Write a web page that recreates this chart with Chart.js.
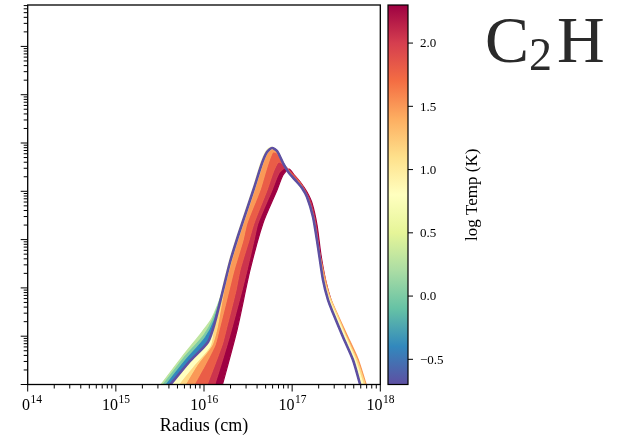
<!DOCTYPE html>
<html>
<head>
<meta charset="utf-8">
<script src="https://cdn.jsdelivr.net/npm/chart.js@4.4.0/dist/chart.umd.min.js"></script>
<style>
  html, body { margin: 0; padding: 0; background: #fff; }
  #wrap { position: relative; width: 621px; height: 438px; }
</style>
</head>
<body>
<div id="wrap"><canvas id="chart" width="621" height="438"></canvas></div>
<script>
// log Temp (K) of each C2H profile, hottest first
const logTemps = [2.3, 2.05, 1.8, 1.5, 1.15, 0.8, 0.3, 0.0, -0.4, -0.7];

// [radius (cm), abundance]; first/last points run just under the axis
const prof230 = [[1.157e16, 1e-11], [1.559e16, 7.69e-11], [2.369e16, 1.344e-9], [3.328e16, 2.35e-8], [4.674e16, 2.21e-7], [6.739e16, 1.064e-6], [7.882e16, 2.175e-6], [9.222e16, 2.89e-6], [1.077e17, 2.074e-6], [1.260e17, 1.485e-6], [1.474e17, 9.67e-7], [1.680e17, 5.73e-7], [1.915e17, 2.006e-7], [2.126e17, 4.80e-8], [2.422e17, 1.325e-8], [2.760e17, 5.62e-9], [3.146e17, 3.02e-9], [4.084e17, 9.63e-10], [5.305e17, 3.22e-10], [6.370e17, 1.024e-10], [6.712e17, 7.69e-11], [9.74e17, 1e-11]];
const prof205 = [[8.73e15, 1e-11], [1.265e16, 7.69e-11], [1.922e16, 9.18e-10], [2.700e16, 9.05e-9], [3.077e16, 2.35e-8], [3.694e16, 9.81e-8], [4.102e16, 2.21e-7], [5.913e16, 1.064e-6], [7.100e16, 2.39e-6], [8.296e16, 3.04e-6], [9.70e16, 2.51e-6], [1.165e17, 1.714e-6], [1.399e17, 1.064e-6], [1.637e17, 5.73e-7], [1.865e17, 2.006e-7], [2.071e17, 4.80e-8], [2.360e17, 1.389e-8], [2.689e17, 5.62e-9], [3.064e17, 3.02e-9], [3.978e17, 9.63e-10], [5.167e17, 3.22e-10], [6.205e17, 1.024e-10], [6.539e17, 7.69e-11], [9.49e17, 1e-11]];
const prof180 = [[6.55e15, 1e-11], [1.026e16, 7.69e-11], [1.601e16, 6.58e-10], [1.777e16, 1.344e-9], [2.308e16, 9.05e-9], [2.562e16, 2.35e-8], [3.242e16, 9.81e-8], [3.694e16, 2.21e-7], [5.188e16, 1.064e-6], [6.230e16, 2.76e-6], [7.100e16, 4.04e-6], [8.526e16, 3.19e-6], [9.97e16, 2.28e-6], [1.196e17, 1.635e-6], [1.399e17, 1.014e-6], [1.594e17, 5.21e-7], [1.817e17, 2.006e-7], [2.071e17, 4.80e-8], [2.360e17, 1.389e-8], [2.689e17, 5.62e-9], [3.146e17, 3.02e-9], [4.084e17, 1.01e-9], [5.305e17, 3.37e-10], [6.539e17, 1.024e-10], [6.890e17, 7.69e-11], [1.0e18, 1e-11]];
const prof150 = [[3.98e15, 1e-11], [7.13e15, 7.69e-11], [1.026e16, 2.53e-10], [1.333e16, 6.58e-10], [1.480e16, 1.344e-9], [1.922e16, 9.05e-9], [2.190e16, 2.35e-8], [2.771e16, 9.81e-8], [3.077e16, 2.21e-7], [4.322e16, 1.064e-6], [5.055e16, 2.76e-6], [5.612e16, 4.89e-6], [6.070e16, 6.51e-6], [6.739e16, 6.21e-6], [8.092e16, 3.67e-6], [9.466e16, 2.28e-6], [1.165e17, 1.558e-6], [1.327e17, 1.116e-6], [1.513e17, 7.24e-7], [1.770e17, 2.80e-7], [2.017e17, 6.09e-8], [2.360e17, 1.602e-8], [2.689e17, 6.48e-9], [3.146e17, 3.33e-9], [4.192e17, 1.059e-9], [5.590e17, 3.37e-10], [6.890e17, 1.024e-10], [7.261e17, 7.69e-11], [1.054e18, 1e-11]];
const prof115 = [[2.88e15, 1e-11], [5.63e15, 7.69e-11], [8.34e15, 2.53e-10], [1.233e16, 6.58e-10], [1.405e16, 1.479e-9], [1.687e16, 9.05e-9], [2.025e16, 3.44e-8], [2.496e16, 1.187e-7], [3.077e16, 3.73e-7], [3.792e16, 1.170e-6], [4.674e16, 3.85e-6], [5.327e16, 6.51e-6], [6.070e16, 7.51e-6], [6.917e16, 6.51e-6], [7.882e16, 3.85e-6], [9.222e16, 2.39e-6], [1.135e17, 1.558e-6], [1.293e17, 1.170e-6], [1.474e17, 7.62e-7], [1.725e17, 2.94e-7], [1.965e17, 6.70e-8], [2.299e17, 1.528e-8], [2.689e17, 6.18e-9], [3.146e17, 3.17e-9], [4.084e17, 1.01e-9], [5.445e17, 3.22e-10], [6.712e17, 1.024e-10], [7.073e17, 7.69e-11], [1.027e18, 1e-11]];
const prof080 = [[1.87e15, 1e-11], [4.57e15, 7.69e-11], [7.71e15, 2.53e-10], [1.170e16, 6.27e-10], [1.299e16, 1.706e-9], [1.601e16, 9.05e-9], [1.922e16, 3.44e-8], [2.369e16, 1.187e-7], [2.920e16, 3.73e-7], [3.599e16, 1.170e-6], [4.436e16, 4.04e-6], [5.055e16, 6.83e-6], [5.761e16, 8.26e-6], [6.565e16, 7.16e-6], [7.882e16, 3.85e-6], [9.222e16, 2.39e-6], [1.135e17, 1.558e-6], [1.293e17, 1.170e-6], [1.474e17, 7.62e-7], [1.725e17, 2.94e-7], [1.965e17, 7.03e-8], [2.240e17, 1.528e-8], [2.620e17, 5.89e-9], [3.064e17, 3.02e-9], [3.978e17, 1.01e-9], [5.167e17, 3.37e-10], [6.370e17, 1.024e-10], [6.712e17, 7.69e-11], [9.74e17, 1e-11]];
const prof030 = [[1.26e15, 1e-11], [2.93e15, 7.69e-11], [5.63e15, 3.71e-10], [9.51e15, 1.222e-9], [1.233e16, 2.38e-9], [1.643e16, 9.05e-9], [1.973e16, 3.44e-8], [2.432e16, 1.187e-7], [2.997e16, 3.73e-7], [3.694e16, 1.170e-6], [4.554e16, 3.85e-6], [5.188e16, 6.51e-6], [5.913e16, 7.88e-6], [6.739e16, 6.83e-6], [7.882e16, 3.85e-6], [9.222e16, 2.39e-6], [1.135e17, 1.558e-6], [1.293e17, 1.170e-6], [1.474e17, 7.62e-7], [1.725e17, 2.94e-7], [1.965e17, 7.03e-8], [2.240e17, 1.457e-8], [2.552e17, 5.62e-9], [2.908e17, 3.02e-9], [3.775e17, 9.63e-10], [4.905e17, 3.22e-10], [5.890e17, 1.024e-10], [6.205e17, 7.69e-11], [9.01e17, 1e-11]];
const prof000 = [[1.30e15, 1e-11], [3.09e15, 7.69e-11], [5.78e15, 3.37e-10], [1.00e16, 1.059e-9], [1.265e16, 2.27e-9], [1.643e16, 9.05e-9], [1.973e16, 3.44e-8], [2.432e16, 1.187e-7], [2.997e16, 3.73e-7], [3.694e16, 1.170e-6], [4.554e16, 3.85e-6], [5.188e16, 6.51e-6], [5.913e16, 7.88e-6], [6.739e16, 6.83e-6], [7.882e16, 3.85e-6], [9.222e16, 2.39e-6], [1.135e17, 1.558e-6], [1.293e17, 1.170e-6], [1.474e17, 7.62e-7], [1.725e17, 2.94e-7], [1.965e17, 7.03e-8], [2.240e17, 1.457e-8], [2.552e17, 5.62e-9], [2.908e17, 3.02e-9], [3.775e17, 9.63e-10], [4.905e17, 3.22e-10], [5.890e17, 1.024e-10], [6.205e17, 7.69e-11], [9.01e17, 1e-11]];
const profm040 = [[1.38e15, 1e-11], [3.34e15, 7.69e-11], [6.09e15, 3.07e-10], [1.026e16, 9.18e-10], [1.299e16, 2.06e-9], [1.643e16, 9.05e-9], [1.973e16, 3.44e-8], [2.432e16, 1.187e-7], [2.997e16, 3.73e-7], [3.694e16, 1.170e-6], [4.554e16, 3.85e-6], [5.188e16, 6.51e-6], [5.913e16, 7.88e-6], [6.739e16, 6.83e-6], [7.882e16, 3.85e-6], [9.222e16, 2.39e-6], [1.135e17, 1.558e-6], [1.293e17, 1.170e-6], [1.474e17, 7.62e-7], [1.725e17, 2.94e-7], [1.965e17, 7.03e-8], [2.240e17, 1.457e-8], [2.552e17, 5.62e-9], [2.908e17, 3.02e-9], [3.775e17, 9.63e-10], [4.905e17, 3.22e-10], [5.890e17, 1.024e-10], [6.205e17, 7.69e-11], [9.01e17, 1e-11]];
const profm070 = [[1.48e15, 1e-11], [3.70e15, 7.69e-11], [6.76e15, 2.92e-10], [1.110e16, 7.59e-10], [1.333e16, 1.968e-9], [1.643e16, 9.05e-9], [1.973e16, 3.44e-8], [2.432e16, 1.187e-7], [2.997e16, 3.73e-7], [3.694e16, 1.170e-6], [4.554e16, 3.85e-6], [5.188e16, 6.51e-6], [5.913e16, 7.88e-6], [6.739e16, 6.83e-6], [7.882e16, 3.85e-6], [9.222e16, 2.39e-6], [1.135e17, 1.558e-6], [1.293e17, 1.170e-6], [1.474e17, 7.62e-7], [1.725e17, 2.94e-7], [1.965e17, 7.03e-8], [2.240e17, 1.457e-8], [2.552e17, 5.62e-9], [2.908e17, 3.02e-9], [3.775e17, 9.63e-10], [4.905e17, 3.22e-10], [5.890e17, 1.024e-10], [6.205e17, 7.69e-11], [9.01e17, 1e-11]];

const profiles = [prof230, prof205, prof180, prof150, prof115, prof080, prof030, prof000, profm040, profm070];
// each profile fills towards this dataset (cold wedge fills into the coldest curve)
const fillTo = [1, 2, 3, 4, 5, 9, 7, 8, 9, false];

const radiusExps = [14, 15, 16, 17, 18];
const abundExps = [-10, -9, -8, -7, -6, -5, -4, -3];
const cbarTicks = [-0.5, 0.0, 0.5, 1.0, 1.5, 2.0];
const tempMin = -0.699, tempMax = 2.301;
const abundMin = 1e-10, abundMax = 7.2e-3;

// matplotlib Spectral, hot end first
const spectral = ['#9e0142', '#d53e4f', '#f46d43', '#fdae61', '#fee08b', '#ffffbf', '#e6f598', '#abdda4', '#66c2a5', '#3288bd', '#5e4fa2'];
const SERIF = '"Liberation Serif", "DejaVu Serif", serif';

function hexRgb(h) {
  return [1, 3, 5].map(i => parseInt(h.substr(i, 2), 16));
}

function tempColor(t) {
  const f = (tempMax - t) / (tempMax - tempMin) * 10;
  const i = Math.max(0, Math.min(9, Math.floor(f)));
  const w = Math.max(0, Math.min(1, f - i));
  const a = hexRgb(spectral[i]), b = hexRgb(spectral[i + 1]);
  const c = a.map((v, k) => Math.round(v + (b[k] - v) * w));
  return `rgb(${c[0]}, ${c[1]}, ${c[2]})`;
}

const datasets = profiles.map((prof, i) => {
  const col = tempColor(logTemps[i]);
  const coldest = i === profiles.length - 1;
  return {
    data: prof.map(p => ({ x: p[0], y: p[1] })),
    borderColor: col,
    backgroundColor: col,
    borderWidth: coldest ? 2.6 : 1.2,
    fill: fillTo[i],
    order: profiles.length - i,
    pointRadius: 0,
    tension: 0.25
  };
});

// 10^n label with superscript
function drawPow(ctx, exp, cx, baseline) {
  ctx.font = `16px ${SERIF}`;
  const wb = ctx.measureText('10').width;
  ctx.font = `11.5px ${SERIF}`;
  const we = ctx.measureText(String(exp)).width;
  const x0 = cx - (wb + we) / 2;
  ctx.textAlign = 'left';
  ctx.textBaseline = 'alphabetic';
  ctx.font = `16px ${SERIF}`;
  ctx.fillText('10', x0, baseline);
  ctx.font = `11.5px ${SERIF}`;
  ctx.fillText(String(exp), x0 + wb + 0.5, baseline - 7);
}

const axesPlugin = {
  id: 'axes',
  afterDraw(chart) {
    const { ctx, chartArea: a, scales } = chart;
    const xs = scales.x, ys = scales.y, cb = scales.cbar;
    ctx.save();
    ctx.strokeStyle = '#000';
    ctx.fillStyle = '#000';
    ctx.lineWidth = 1;

    const line = (x1, y1, x2, y2) => {
      ctx.beginPath(); ctx.moveTo(x1, y1); ctx.lineTo(x2, y2); ctx.stroke();
    };

    // x ticks
    radiusExps.forEach((e, k) => {
      const px = xs.getPixelForValue(Math.pow(10, e));
      line(px, a.bottom, px, a.bottom + 7);
      if (k < radiusExps.length - 1) {
        for (let m = 2; m <= 9; m++) {
          const mx = xs.getPixelForValue(m * Math.pow(10, e));
          line(mx, a.bottom, mx, a.bottom + 4);
        }
      }
    });

    // y ticks (labels fall outside the crop)
    abundExps.forEach(e => {
      const py = ys.getPixelForValue(Math.pow(10, e));
      line(a.left - 7, py, a.left, py);
      for (let m = 2; m <= 9; m++) {
        const v = m * Math.pow(10, e);
        if (v > abundMax) break;
        const my = ys.getPixelForValue(v);
        line(a.left - 4, my, a.left, my);
      }
    });

    // frame
    ctx.lineWidth = 1.3;
    ctx.strokeRect(a.left, a.top, a.right - a.left, a.bottom - a.top);

    // x tick labels, the first one is cut by the crop
    radiusExps.forEach((e, k) => {
      const px = xs.getPixelForValue(Math.pow(10, e));
      ctx.save();
      if (k === 0) {
        ctx.beginPath(); ctx.rect(22, a.bottom, 80, 60); ctx.clip();
      }
      drawPow(ctx, e, px, 410);
      ctx.restore();
    });

    ctx.font = `18px ${SERIF}`;
    ctx.textAlign = 'center';
    ctx.textBaseline = 'alphabetic';
    ctx.fillText('Radius (cm)', (a.left + a.right) / 2, 431);

    // colorbar
    const cx0 = 388, cx1 = 408;
    const top = cb.getPixelForValue(tempMax), bot = cb.getPixelForValue(tempMin);
    const grad = ctx.createLinearGradient(0, top, 0, bot);
    spectral.forEach((c, i) => grad.addColorStop(i / 10, c));
    ctx.fillStyle = grad;
    ctx.fillRect(cx0, top, cx1 - cx0, bot - top);
    ctx.lineWidth = 1.2;
    ctx.strokeStyle = '#000';
    ctx.strokeRect(cx0, top, cx1 - cx0, bot - top);

    ctx.lineWidth = 1;
    ctx.fillStyle = '#000';
    ctx.font = `13px ${SERIF}`;
    ctx.textAlign = 'left';
    ctx.textBaseline = 'middle';
    cbarTicks.forEach(t => {
      const py = cb.getPixelForValue(t);
      line(cx1, py, cx1 + 5, py);
      const lab = (t < 0 ? '\u2212' : '') + Math.abs(t).toFixed(1);
      ctx.fillText(lab, cx1 + 12, py + 1);
    });

    ctx.save();
    ctx.translate(473, (top + bot) / 2);
    ctx.rotate(-Math.PI / 2);
    ctx.textAlign = 'center';
    ctx.textBaseline = 'middle';
    ctx.font = `17px ${SERIF}`;
    ctx.fillText('log Temp (K)', 0, 0);
    ctx.restore();

    // species label
    ctx.fillStyle = '#2a2a2a';
    ctx.textAlign = 'left';
    ctx.textBaseline = 'alphabetic';
    ctx.font = `66px ${SERIF}`;
    ctx.fillText('C', 485, 62);
    const wc = ctx.measureText('C').width;
    ctx.font = `46px ${SERIF}`;
    ctx.fillText('2', 485 + wc, 70);
    const w2 = ctx.measureText('2').width;
    ctx.font = `66px ${SERIF}`;
    ctx.fillText('H', 485 + wc + w2 + 5, 62);

    ctx.restore();
  }
};

new Chart(document.getElementById('chart'), {
  type: 'line',
  data: { datasets },
  options: {
    responsive: false,
    animation: false,
    devicePixelRatio: 1,
    layout: { padding: { left: 27.7, right: 240.7, top: 5, bottom: 53.5 } },
    plugins: { legend: { display: false }, tooltip: { enabled: false } },
    scales: {
      x: { type: 'logarithmic', min: 1e14, max: 1e18, display: false },
      y: { type: 'logarithmic', min: abundMin, max: abundMax, display: false },
      cbar: { type: 'linear', position: 'right', min: tempMin, max: tempMax, display: false }
    }
  },
  plugins: [axesPlugin]
});
</script>
</body>
</html>
